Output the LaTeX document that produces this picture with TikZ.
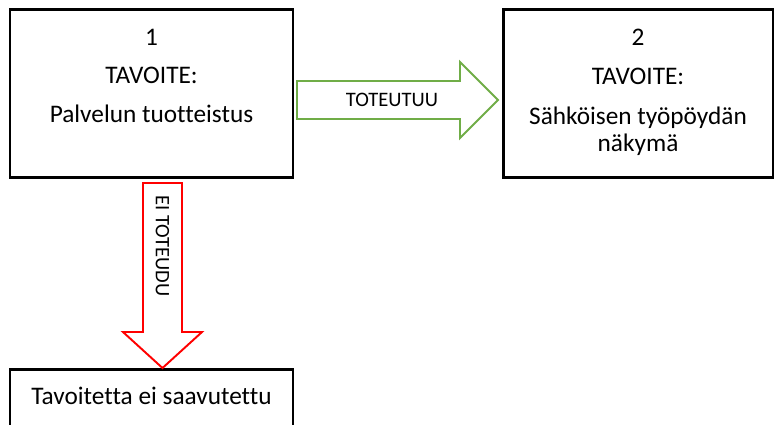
\documentclass[tikz,border=0pt]{standalone}
\usepackage{fontspec}
\setmainfont{Carlito}[Ligatures=NoCommon]
\usetikzlibrary{calc}

\definecolor{okgreen}{RGB}{112,173,71}

\begin{document}
\begin{tikzpicture}[line cap=round,line join=miter,x=0.02cm,y=-0.02cm,
  goalbox/.style={draw=black,line width=1.7pt,fill=white,inner sep=0pt},
  boxtext/.style={anchor=base,inner sep=0pt,font=\fontsize{14.4}{15}\selectfont},
  arrowtext/.style={inner sep=0pt,font=\fontsize{11.7}{12}\selectfont}]

\def\px{0.02cm}
\clip (0,0) rectangle (774,424);

% -----------------------
% Boxes
% -----------------------
\node[goalbox,minimum width=283*\px,minimum height=168*\px] (goal1) at (151.5,93.5) {};
\node[goalbox,minimum width=270*\px,minimum height=168*\px] (goal2) at (638,93.5) {};
\node[goalbox,minimum width=283*\px,minimum height=80*\px]  (fail)  at (151.5,409) {};

% texts of box 1
\node[boxtext] (num1)  at (151.5,45)  {1};
\node[boxtext] (tav1)  at (151.5,83)  {TAVOITE:};
\node[boxtext] (name1) at (151.5,122) {Palvelun tuotteistus};

% texts of box 2
\node[boxtext] (num2)   at (638,45)  {2};
\node[boxtext] (tav2)   at (638,84)  {TAVOITE:};
\node[boxtext] (name2a) at (638,124) {Sähköisen työpöydän};
\node[boxtext] (name2b) at (638,151) {näkymä};

% text of the lower box
\node[boxtext] (failtext) at (151.5,404) {Tavoitetta ei saavutettu};

% -----------------------
% Block arrows
% -----------------------
% green one, to the right
\draw[okgreen,line width=1.1pt,fill=white]
  (297,81) -- (460,81) -- (460,62) -- (498,100) -- (460,138) -- (460,119) -- (297,119) -- cycle;
\node[arrowtext] (ok) at (392,100) {TOTEUTUU};

% red one, downwards
\draw[red,line width=1.1pt,fill=white]
  (143,183) -- (182,183) -- (182,332) -- (202,332) -- (162.5,368) -- (123,332) -- (143,332) -- cycle;
\node[arrowtext,rotate=-90] (notok) at (162.5,246) {EI TOTEUDU};

\end{tikzpicture}
\end{document}
